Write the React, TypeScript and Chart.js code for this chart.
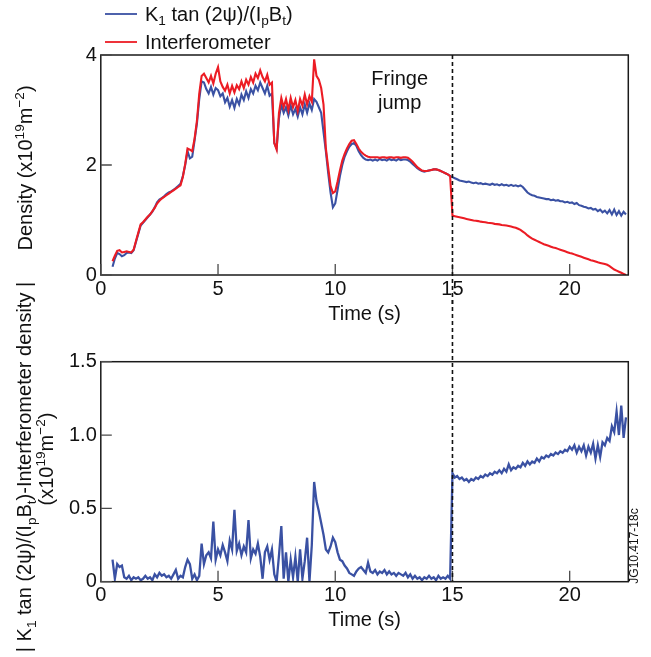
import React, { useEffect, useRef } from 'react';
import { Chart, registerables } from 'chart.js';

Chart.register(...registerables);

const FONT = "'Liberation Sans', Arial, Helvetica, sans-serif";
const BLUE = '#3a51a3';
const RED = '#ec1c24';
const INK = '#111111';

// Time samples (s)
const TIMES = [
  0.5, 0.6, 0.7, 0.8, 0.9, 1.0, 1.1, 1.2, 1.3, 1.4,
  1.5, 1.6, 1.7, 1.8, 1.9, 2.0, 2.1, 2.2, 2.3, 2.4,
  2.5, 2.6, 2.7, 2.8, 2.9, 3.0, 3.1, 3.2, 3.3, 3.4,
  3.5, 3.6, 3.7, 3.8, 3.9, 4.0, 4.1, 4.2, 4.3, 4.4,
  4.5, 4.6, 4.7, 4.8, 4.9, 5.0, 5.1, 5.2, 5.3, 5.4,
  5.5, 5.6, 5.7, 5.8, 5.9, 6.0, 6.1, 6.2, 6.3, 6.4,
  6.5, 6.6, 6.7, 6.8, 6.9, 7.0, 7.1, 7.2, 7.3, 7.4,
  7.5, 7.6, 7.7, 7.8, 7.9, 8.0, 8.1, 8.2, 8.3, 8.4,
  8.5, 8.6, 8.7, 8.8, 8.9, 9.0, 9.1, 9.2, 9.3, 9.4,
  9.5, 9.6, 9.7, 9.8, 9.9, 10.0, 10.1, 10.2, 10.3, 10.4,
  10.5, 10.6, 10.7, 10.8, 10.9, 11.0, 11.1, 11.2, 11.3, 11.4,
  11.5, 11.6, 11.7, 11.8, 11.9, 12.0, 12.1, 12.2, 12.3, 12.4,
  12.5, 12.6, 12.7, 12.8, 12.9, 13.0, 13.1, 13.2, 13.3, 13.4,
  13.5, 13.6, 13.7, 13.8, 13.9, 14.0, 14.1, 14.2, 14.3, 14.4,
  14.5, 14.6, 14.7, 14.8, 14.9, 15.0, 15.1, 15.2, 15.3, 15.4,
  15.5, 15.6, 15.7, 15.8, 15.9, 16.0, 16.1, 16.2, 16.3, 16.4,
  16.5, 16.6, 16.7, 16.8, 16.9, 17.0, 17.1, 17.2, 17.3, 17.4,
  17.5, 17.6, 17.7, 17.8, 17.9, 18.0, 18.1, 18.2, 18.3, 18.4,
  18.5, 18.6, 18.7, 18.8, 18.9, 19.0, 19.1, 19.2, 19.3, 19.4,
  19.5, 19.6, 19.7, 19.8, 19.9, 20.0, 20.1, 20.2, 20.3, 20.4,
  20.5, 20.6, 20.7, 20.8, 20.9, 21.0, 21.1, 21.2, 21.3, 21.4,
  21.5, 21.6, 21.7, 21.8, 21.9, 22.0, 22.1, 22.2, 22.3, 22.4,
];

// K1 tan(2psi)/(IpBt) density (x10^19 m^-2)
const POLARIMETER_DENSITY = [
  0.15, 0.30, 0.40, 0.38, 0.34, 0.36, 0.40, 0.41, 0.40, 0.45,
  0.60, 0.75, 0.90, 0.95, 1.00, 1.05, 1.10, 1.15, 1.23, 1.32,
  1.37, 1.40, 1.43, 1.47, 1.50, 1.52, 1.55, 1.58, 1.62, 1.66,
  1.80, 2.00, 2.25, 2.12, 2.15, 2.45, 2.75, 3.20, 3.52, 3.50,
  3.38, 3.30, 3.42, 3.28, 3.40, 3.36, 3.25, 3.30, 3.14, 3.22,
  3.06, 3.18, 3.04, 3.20, 3.10, 3.28, 3.18, 3.34, 3.22, 3.38,
  3.30, 3.44, 3.36, 3.50, 3.40, 3.30, 3.44, 3.26, 3.30, 2.40,
  2.30, 2.85, 3.10, 2.95, 3.05, 2.90, 3.08, 2.92, 3.02, 2.88,
  3.05, 2.92, 3.10, 2.95, 3.12, 3.00, 3.20, 3.15, 3.05, 2.95,
  2.60, 2.25, 1.85, 1.50, 1.23, 1.30, 1.55, 1.80, 2.00, 2.15,
  2.25, 2.33, 2.38, 2.40, 2.35, 2.25, 2.18, 2.13, 2.10, 2.09,
  2.10, 2.08, 2.10, 2.08, 2.11, 2.09, 2.10, 2.08, 2.11, 2.09,
  2.10, 2.08, 2.11, 2.09, 2.10, 2.10, 2.09, 2.06, 2.02, 1.98,
  1.94, 1.91, 1.89, 1.88, 1.89, 1.90, 1.91, 1.92, 1.92, 1.91,
  1.89, 1.87, 1.85, 1.83, 1.80, 1.78, 1.76, 1.74, 1.72, 1.71,
  1.70, 1.69, 1.70, 1.68, 1.67, 1.68, 1.66, 1.67, 1.65, 1.66,
  1.65, 1.64, 1.66, 1.64, 1.65, 1.63, 1.65, 1.63, 1.64, 1.62,
  1.64, 1.62, 1.63, 1.61, 1.63, 1.60, 1.55, 1.50, 1.47, 1.45,
  1.44, 1.42, 1.41, 1.40, 1.39, 1.38, 1.38, 1.36, 1.37, 1.35,
  1.36, 1.34, 1.34, 1.32, 1.33, 1.31, 1.32, 1.29, 1.31, 1.27,
  1.26, 1.24, 1.23, 1.21, 1.22, 1.19, 1.20, 1.16, 1.19, 1.14,
  1.17, 1.12, 1.18, 1.10, 1.19, 1.09, 1.16, 1.08, 1.15, 1.10,
];

// Interferometer density (x10^19 m^-2)
const INTERFEROMETER_DENSITY = [
  0.25, 0.35, 0.44, 0.45, 0.41, 0.42, 0.43, 0.42, 0.41, 0.46,
  0.62, 0.77, 0.92, 0.96, 1.01, 1.06, 1.10, 1.16, 1.22, 1.30,
  1.35, 1.39, 1.42, 1.45, 1.48, 1.51, 1.54, 1.57, 1.60, 1.63,
  1.78, 2.02, 2.30, 2.28, 2.25, 2.48, 2.80, 3.30, 3.62, 3.66,
  3.58, 3.50, 3.62, 3.48, 3.66, 3.78, 3.52, 3.42, 3.35, 3.46,
  3.30, 3.44, 3.32, 3.45, 3.38, 3.52, 3.40, 3.55, 3.46, 3.60,
  3.50, 3.66, 3.58, 3.72, 3.60, 3.52, 3.64, 3.46, 3.50, 2.40,
  2.28, 2.95, 3.22, 3.05, 3.20, 3.00, 3.22, 3.05, 3.18, 2.98,
  3.20, 3.08, 3.28, 3.10, 3.25, 3.15, 3.92, 3.62, 3.55, 3.40,
  3.10, 2.30, 1.95, 1.62, 1.49, 1.52, 1.70, 1.90, 2.08, 2.20,
  2.30, 2.38, 2.44, 2.45, 2.38, 2.30, 2.24, 2.20, 2.17, 2.15,
  2.14, 2.14, 2.14, 2.14, 2.13, 2.14, 2.14, 2.13, 2.14, 2.14,
  2.13, 2.14, 2.14, 2.13, 2.14, 2.14, 2.13, 2.10, 2.06, 2.01,
  1.96, 1.93, 1.90, 1.89, 1.89, 1.90, 1.91, 1.92, 1.92, 1.91,
  1.89, 1.87, 1.85, 1.83, 1.80, 1.08, 1.07, 1.06, 1.05, 1.04,
  1.03, 1.02, 1.01, 1.00, 0.99, 0.985, 0.98, 0.97, 0.965, 0.96,
  0.95, 0.945, 0.94, 0.93, 0.925, 0.92, 0.91, 0.905, 0.90, 0.89,
  0.88, 0.87, 0.86, 0.84, 0.82, 0.79, 0.76, 0.72, 0.69, 0.66,
  0.64, 0.62, 0.60, 0.58, 0.56, 0.545, 0.53, 0.515, 0.50, 0.49,
  0.475, 0.46, 0.445, 0.43, 0.415, 0.40, 0.39, 0.375, 0.36, 0.345,
  0.33, 0.315, 0.30, 0.285, 0.27, 0.26, 0.245, 0.23, 0.22, 0.21,
  0.20, 0.185, 0.16, 0.13, 0.10, 0.08, 0.06, 0.04, 0.02, 0.00,
];

// | K1 tan(2psi)/(IpBt) - interferometer density | (x10^19 m^-2)
const DENSITY_DIFFERENCE = [
  0.15, 0.02, 0.12, 0.10, 0.11, 0.03, 0.02, 0.04, 0.01, 0.03,
  0.02, 0.03, 0.01, 0.02, 0.04, 0.02, 0.03, 0.01, 0.05, 0.03,
  0.06, 0.04, 0.05, 0.03, 0.04, 0.02, 0.05, 0.08, 0.02, 0.04,
  0.03, 0.10, 0.15, 0.12, 0.02, 0.05, 0.01, 0.04, 0.26, 0.12,
  0.18, 0.20, 0.16, 0.41, 0.15, 0.22, 0.18, 0.25, 0.20, 0.14,
  0.28, 0.22, 0.49, 0.21, 0.26, 0.18, 0.24, 0.20, 0.42, 0.16,
  0.22, 0.19, 0.26, 0.17, 0.02, 0.20, 0.24, 0.15, 0.22, 0.05,
  0.00, 0.18, 0.38, 0.02, 0.20, 0.00, 0.15, 0.03, 0.17, 0.00,
  0.22, 0.02, 0.14, 0.30, 0.00, 0.25, 0.68, 0.55, 0.48, 0.40,
  0.32, 0.22, 0.20, 0.24, 0.30, 0.27, 0.20, 0.15, 0.14, 0.11,
  0.09, 0.06, 0.05, 0.04, 0.07, 0.09, 0.10, 0.08, 0.06, 0.13,
  0.07, 0.06, 0.08, 0.05, 0.07, 0.06, 0.08, 0.05, 0.07, 0.05,
  0.06, 0.04, 0.06, 0.05, 0.04, 0.06, 0.03, 0.05, 0.02, 0.04,
  0.02, 0.03, 0.01, 0.03, 0.02, 0.04, 0.02, 0.03, 0.01, 0.04,
  0.02, 0.03, 0.02, 0.04, 0.02, 0.74, 0.71, 0.72, 0.70, 0.71,
  0.69, 0.70, 0.68, 0.70, 0.69, 0.71, 0.70, 0.72, 0.71, 0.73,
  0.72, 0.74, 0.73, 0.75, 0.74, 0.76, 0.74, 0.77, 0.75, 0.80,
  0.76, 0.78, 0.77, 0.79, 0.78, 0.81, 0.79, 0.82, 0.80, 0.82,
  0.81, 0.84, 0.82, 0.85, 0.84, 0.86, 0.85, 0.87, 0.86, 0.88,
  0.87, 0.89, 0.88, 0.90, 0.89, 0.92, 0.90, 0.93, 0.88, 0.92,
  0.89, 0.93, 0.86, 0.92, 0.88, 0.94, 0.84, 0.93, 0.85, 0.95,
  0.93, 0.98, 0.96, 1.06, 1.02, 1.16, 1.00, 1.20, 0.98, 1.12,
];

const X_TICKS = [0, 5, 10, 15, 20];
const TOP_Y_TICKS = [0, 2, 4];
const BOTTOM_Y_TICKS = [0, 0.5, 1.0, 1.5];
const X_MAX = 22.5;
const FRINGE_JUMP_TIME = 15;
const SERIES_NAMES = ['K1 tan (2ψ)/(IpBt)', 'Interferometer'];
const X_TITLE = 'Time (s)';
const ANNOTATION_LINES = ['Fringe', 'jump'];
const FIGURE_ID = 'JG10.417-18c';

type Seg = [string, ('sub' | 'sup')?];

const LEGEND_PROBE: Seg[] = [['K'], ['1', 'sub'], [' tan (2ψ)/(I'], ['p', 'sub'], ['B'], ['t', 'sub'], [')']];
const LEGEND_INTERF: Seg[] = [['Interferometer']];
const TOP_Y_TITLE: Seg[] = [['Density (x10'], ['19', 'sup'], ['m'], ['−2', 'sup'], [')']];
const BOTTOM_Y_TITLE_1: Seg[] = [['| K'], ['1', 'sub'], [' tan (2ψ)/(I'], ['p', 'sub'], ['B'], ['t', 'sub'], [')-Interferometer density |']];
const BOTTOM_Y_TITLE_2: Seg[] = [['(x10'], ['19', 'sup'], ['m'], ['−2', 'sup'], [')']];

const fontStr = (size: number) => `${size}px ${FONT}`;
const segSize = (size: number, k?: string) => (k ? size * 0.68 : size);

function measureRich(ctx: CanvasRenderingContext2D, segs: Seg[], size: number) {
  let w = 0;
  for (const [t, k] of segs) {
    ctx.font = fontStr(segSize(size, k));
    w += ctx.measureText(t).width;
  }
  return w;
}

function drawRich(ctx: CanvasRenderingContext2D, segs: Seg[], x: number, y: number, size: number, align: 'left' | 'center' = 'left') {
  let cx = align === 'center' ? x - measureRich(ctx, segs, size) / 2 : x;
  ctx.textAlign = 'left';
  ctx.textBaseline = 'alphabetic';
  for (const [t, k] of segs) {
    ctx.font = fontStr(segSize(size, k));
    const dy = k === 'sub' ? size * 0.24 : k === 'sup' ? -size * 0.4 : 0;
    ctx.fillText(t, cx, y + dy);
    cx += ctx.measureText(t).width;
  }
}

function drawRotatedRich(ctx: CanvasRenderingContext2D, segs: Seg[], cx: number, cy: number, size: number) {
  ctx.save();
  ctx.translate(cx, cy);
  ctx.rotate(-Math.PI / 2);
  drawRich(ctx, segs, 0, size * 0.36, size, 'center');
  ctx.restore();
}

function framePlugin(yTicks: number[]) {
  return {
    id: 'frame',
    afterDatasetsDraw(chart: any) {
      const { ctx, chartArea: a, scales } = chart;
      ctx.save();
      ctx.strokeStyle = '#1a1a1a';
      ctx.lineWidth = 1.5;
      ctx.strokeRect(a.left, a.top, a.right - a.left, a.bottom - a.top);
      ctx.strokeStyle = '#4a4a4a';
      ctx.lineWidth = 1.3;
      ctx.beginPath();
      for (const v of X_TICKS) {
        const px = scales.x.getPixelForValue(v);
        ctx.moveTo(px, a.bottom);
        ctx.lineTo(px, a.bottom - 11);
      }
      for (const v of yTicks) {
        const py = scales.y.getPixelForValue(v);
        ctx.moveTo(a.left, py);
        ctx.lineTo(a.left + 11, py);
      }
      ctx.stroke();
      ctx.restore();
    },
  };
}

function dashedLine(chart: any, y0: number, y1: number) {
  const { ctx, scales } = chart;
  const px = scales.x.getPixelForValue(FRINGE_JUMP_TIME);
  ctx.save();
  ctx.strokeStyle = INK;
  ctx.lineWidth = 1.6;
  ctx.setLineDash([4, 3]);
  ctx.beginPath();
  ctx.moveTo(px, y0);
  ctx.lineTo(px, y1);
  ctx.stroke();
  ctx.restore();
}

const topDecor = {
  id: 'topDecor',
  afterDraw(chart: any) {
    const { ctx, chartArea: a, scales } = chart;
    dashedLine(chart, a.top, a.bottom + 30);
    ctx.save();
    ctx.fillStyle = INK;
    // legend
    ctx.lineWidth = 1.8;
    ctx.strokeStyle = BLUE;
    ctx.beginPath();
    ctx.moveTo(105, 14);
    ctx.lineTo(137, 14);
    ctx.stroke();
    drawRich(ctx, LEGEND_PROBE, 145, 20.5, 20);
    ctx.strokeStyle = RED;
    ctx.beginPath();
    ctx.moveTo(105, 42);
    ctx.lineTo(137, 42);
    ctx.stroke();
    drawRich(ctx, LEGEND_INTERF, 145, 49, 20);
    // y title
    drawRotatedRich(ctx, TOP_Y_TITLE, 25, 168, 20);
    // annotation
    const ax = scales.x.getPixelForValue(12.75);
    ctx.font = fontStr(20);
    ctx.textAlign = 'center';
    ctx.textBaseline = 'alphabetic';
    ctx.fillText(ANNOTATION_LINES[0], ax, scales.y.getPixelForValue(3.45));
    ctx.fillText(ANNOTATION_LINES[1], ax, scales.y.getPixelForValue(3.02));
    ctx.restore();
  },
};

const bottomDecor = {
  id: 'bottomDecor',
  afterDraw(chart: any) {
    const { ctx, chartArea: a } = chart;
    dashedLine(chart, 40, a.bottom);
    ctx.save();
    ctx.fillStyle = INK;
    drawRotatedRich(ctx, BOTTOM_Y_TITLE_1, 24, 207, 20);
    drawRotatedRich(ctx, BOTTOM_Y_TITLE_2, 46, 199, 20);
    ctx.save();
    ctx.translate(634.5, 286);
    ctx.rotate(-Math.PI / 2);
    ctx.font = fontStr(12);
    ctx.textAlign = 'center';
    ctx.textBaseline = 'middle';
    ctx.fillText(FIGURE_ID, 0, 0);
    ctx.restore();
    ctx.restore();
  },
};

function makeScales(yMin: number, yMax: number, yTicks: number[], yFmt: (v: number) => string) {
  const tickFont = { family: FONT, size: 20 };
  return {
    x: {
      type: 'linear',
      min: 0,
      max: X_MAX,
      afterFit: (s: any) => { s.height = 60; },
      afterBuildTicks: (s: any) => { s.ticks = X_TICKS.map((v) => ({ value: v })); },
      grid: { display: false, drawTicks: false },
      border: { display: false },
      ticks: { font: tickFont, color: INK, padding: 2, maxRotation: 0, callback: (v: any) => String(v) },
      title: { display: true, text: X_TITLE, font: { family: FONT, size: 20 }, color: INK, padding: { top: 0, bottom: 9 } },
    },
    y: {
      type: 'linear',
      min: yMin,
      max: yMax,
      afterFit: (s: any) => { s.width = 40; },
      afterBuildTicks: (s: any) => { s.ticks = yTicks.map((v) => ({ value: v })); },
      grid: { display: false, drawTicks: false },
      border: { display: false },
      ticks: { font: tickFont, color: INK, padding: 4, callback: (v: any) => yFmt(Number(v)) },
    },
  };
}

export default function App() {
  const topRef = useRef<HTMLCanvasElement>(null);
  const botRef = useRef<HTMLCanvasElement>(null);

  useEffect(() => {
    const common = {
      responsive: false,
      animation: false,
      events: [],
      plugins: { legend: { display: false }, tooltip: { enabled: false }, title: { display: false } },
      elements: { point: { radius: 0 }, line: { tension: 0 } },
    };

    const top = new Chart(topRef.current!, {
      type: 'line',
      data: {
        datasets: [
          {
            label: SERIES_NAMES[0],
            data: TIMES.map((t, i) => ({ x: t, y: POLARIMETER_DENSITY[i] })),
            borderColor: BLUE,
            borderWidth: 2.1,
            pointRadius: 0,
            order: 2,
          },
          {
            label: SERIES_NAMES[1],
            data: TIMES.map((t, i) => ({ x: t, y: INTERFEROMETER_DENSITY[i] })),
            borderColor: RED,
            borderWidth: 2.1,
            pointRadius: 0,
            order: 1,
          },
        ],
      },
      options: {
        ...common,
        layout: { padding: { left: 60.8, right: 22.7, top: 55, bottom: 5 } },
        scales: makeScales(0, 4, TOP_Y_TICKS, (v) => String(v)) as any,
      } as any,
      plugins: [framePlugin(TOP_Y_TICKS), topDecor],
    });

    const bottom = new Chart(botRef.current!, {
      type: 'line',
      data: {
        datasets: [
          {
            label: '| K1 tan (2ψ)/(IpBt)-Interferometer density |',
            data: TIMES.map((t, i) => ({ x: t, y: DENSITY_DIFFERENCE[i] })),
            borderColor: BLUE,
            borderWidth: 2.3,
            pointRadius: 0,
          },
        ],
      },
      options: {
        ...common,
        layout: { padding: { left: 60.8, right: 22.7, top: 101.7, bottom: 15.3 } },
        scales: makeScales(0, 1.5, BOTTOM_Y_TICKS, (v) => (v === 0 ? '0' : v.toFixed(1))) as any,
      } as any,
      plugins: [framePlugin(BOTTOM_Y_TICKS), bottomDecor],
    });

    return () => {
      top.destroy();
      bottom.destroy();
    };
  }, []);

  return (
    <div style={{ position: 'absolute', left: 0, top: 0, width: 651, height: 657, background: '#ffffff', overflow: 'hidden' }}>
      <canvas ref={topRef} width={651} height={340} style={{ position: 'absolute', left: 0, top: 0, width: 651, height: 340 }} />
      <canvas ref={botRef} width={651} height={397} style={{ position: 'absolute', left: 0, top: 260, width: 651, height: 397 }} />
    </div>
  );
}
